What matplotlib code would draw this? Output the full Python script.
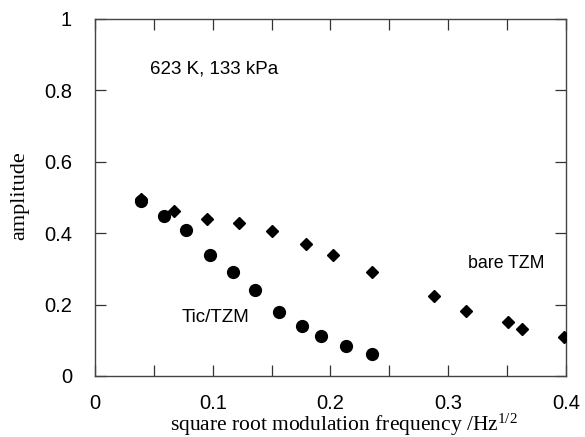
import matplotlib
matplotlib.use("Agg")
import matplotlib.pyplot as plt
from matplotlib.ticker import MultipleLocator

plt.rcParams["mathtext.fontset"] = "custom"
plt.rcParams["mathtext.rm"] = "Liberation Serif"
plt.rcParams["mathtext.it"] = "Liberation Serif:italic"

# Data
tic_x = [0.039, 0.059, 0.077, 0.098, 0.117, 0.136, 0.156, 0.176, 0.192, 0.213, 0.235]
tic_y = [0.489, 0.448, 0.408, 0.340, 0.290, 0.240, 0.180, 0.141, 0.113, 0.085, 0.062]

bare_x = [0.039, 0.067, 0.095, 0.122, 0.150, 0.179, 0.202, 0.235, 0.288, 0.315, 0.351, 0.363, 0.398]
bare_y = [0.497, 0.462, 0.439, 0.428, 0.406, 0.371, 0.340, 0.291, 0.223, 0.182, 0.152, 0.131, 0.108]

x_ticks = [0, 0.1, 0.2, 0.3, 0.4]
x_ticklabels = ["0", "0.1", "0.2", "0.3", "0.4"]
y_ticks = [0, 0.2, 0.4, 0.6, 0.8, 1]
y_ticklabels = ["0", "0.2", "0.4", "0.6", "0.8", "1"]

fig = plt.figure(figsize=(5.85, 4.37), dpi=100)
ax = fig.add_axes([0.1624, 0.1396, 0.805, 0.817])

ax.plot(tic_x, tic_y, linestyle="none", marker="o", markersize=8.5,
        color="black", zorder=3)
ax.plot(bare_x, bare_y, linestyle="none", marker="D", markersize=6,
        color="black", zorder=3)

ax.set_xlim(0, 0.4)
ax.set_ylim(0, 1)
ax.set_xticks(x_ticks)
ax.set_xticklabels(x_ticklabels)
ax.set_yticks(y_ticks)
ax.set_yticklabels(y_ticklabels)
ax.xaxis.set_minor_locator(MultipleLocator(0.05))

sans = "Liberation Sans"
serif = "Liberation Serif"
for lab in ax.get_xticklabels() + ax.get_yticklabels():
    lab.set_fontfamily(sans)
    lab.set_fontsize(14.5)

ax.tick_params(axis="both", which="both", direction="in", top=True, right=True,
               length=8, width=0.9, color="#333333")
ax.tick_params(axis="x", which="major", pad=13)
ax.tick_params(axis="y", which="major", pad=16.5)

for s in ax.spines.values():
    s.set_linewidth(1.0)
    s.set_color("#444444")

ax.set_xlabel(r"square root modulation frequency /Hz$^{\mathrm{1/2}}$", fontfamily=serif,
              fontsize=15.5)
ax.xaxis.set_label_coords(0.529, -0.099)
ax.set_ylabel("amplitude", fontfamily=serif, fontsize=16)
ax.yaxis.set_label_coords(-0.14, 0.505)

ax.text(0.0466, 0.86, "623 K, 133 kPa", fontfamily=sans, fontsize=13.5,
        va="center", ha="left")
ax.text(0.3167, 0.316, "bare TZM", fontfamily=sans, fontsize=12.8,
        va="center", ha="left")
ax.text(0.0734, 0.165, "Tic/TZM", fontfamily=sans, fontsize=13.5,
        va="center", ha="left")

fig.savefig("out.png", dpi=100)
